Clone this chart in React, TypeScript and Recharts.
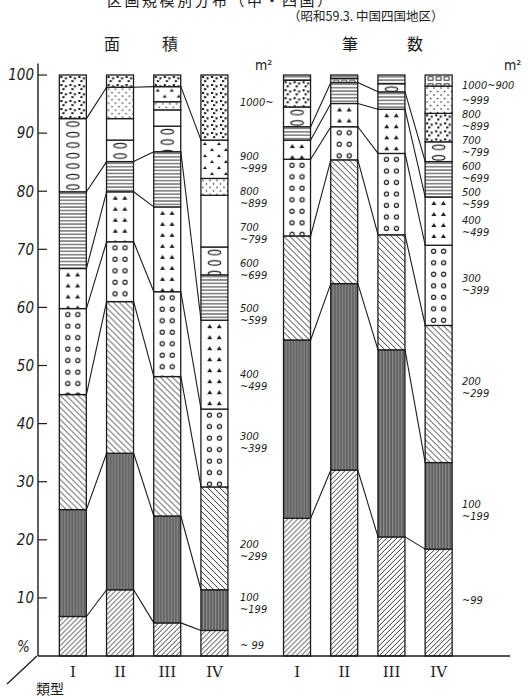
import React from 'react';
import { ComposedChart, Bar, XAxis, YAxis, ReferenceLine } from 'recharts';

// size classes (m²), bottom to top of each bar
const SIZE_CLASSES = ['~99', '100~199', '200~299', '300~399', '400~499', '500~599', '600~699', '700~799', '800~899', '900~999', '1000~'];
const TYPES = ['I', 'II', 'III', 'IV'];

// 面積 (%) by size class
const AREA_I = [6.8, 18.4, 19.8, 14.8, 6.9, 13.2, 12.6, 0, 0, 0, 7.5];
const AREA_II = [11.4, 23.5, 26.1, 10.3, 8.6, 5.2, 3.7, 3.7, 5.4, 0, 2.1];
const AREA_III = [5.7, 18.4, 24.0, 14.6, 14.6, 9.5, 4.4, 2.8, 1.4, 2.6, 2.0];
const AREA_IV = [4.4, 7.0, 17.7, 13.4, 15.3, 7.8, 4.8, 8.9, 2.9, 6.6, 11.2];

// 筆数 (%) by size class
const COUNT_I = [23.7, 30.7, 17.9, 13.2, 3.3, 2.3, 3.4, 4.6, 0, 0, 0.9];
const COUNT_II = [32.0, 32.1, 21.3, 5.7, 4.0, 3.6, 0, 0, 0, 0.7, 0.6];
const COUNT_III = [20.5, 32.2, 19.8, 14.0, 7.6, 3.0, 1.4, 0, 0, 0, 1.5];
const COUNT_IV = [18.4, 14.9, 23.6, 13.8, 8.3, 6.1, 3.4, 4.9, 4.7, 1.9, 0];

// which class boundaries are joined between neighbouring bars [left class, right class]
const AREA_LINKS = [
  [[0, 0], [1, 1], [2, 2], [3, 3], [4, 4], [5, 5], [9, 9]],
  [[0, 0], [1, 1], [2, 2], [3, 3], [4, 4], [5, 5], [9, 9]],
  [[0, 0], [1, 1], [2, 2], [3, 3], [5, 4], [9, 9]],
];
const COUNT_LINKS = [
  [[0, 0], [1, 1], [2, 2], [3, 3], [4, 4], [5, 5]],
  [[0, 0], [1, 1], [2, 2], [3, 3], [4, 4], [5, 5]],
  [[0, 0], [1, 1], [2, 2], [3, 3], [4, 4], [5, 5]],
];

const Y_TICKS = [10, 20, 30, 40, 50, 60, 70, 80, 90, 100];

const AREA_LEGEND = [['1000~'], ['900', '~999'], ['800', '~899'], ['700', '~799'], ['600', '~699'], ['500', '~599'], ['400', '~499'], ['300', '~399'], ['200', '~299'], ['100', '~199'], ['~ 99']];
const COUNT_LEGEND = [['1000~900'], ['~999'], ['800', '~899'], ['700', '~799'], ['600', '~699'], ['500', '~599'], ['400', '~499'], ['300', '~399'], ['200', '~299'], ['100', '~199'], ['~99']];

// layout
const W = 529;
const H = 699;
const MARGIN = { top: 63.4, right: 19, bottom: 13, left: 0 };
const Y_AXIS_W = 38;
const X_AXIS_H = 30;
const X_DOMAIN: [number, number] = [0.26, 10.26];
const AREA_POS = [1, 2, 3, 4];
const COUNT_POS = [5.75, 6.75, 7.75, 8.75];
const BAR_SIZE = 27;
const PX_PER_UNIT = (W - MARGIN.left - MARGIN.right - Y_AXIS_W) / (X_DOMAIN[1] - X_DOMAIN[0]);
const HALF_BAR = BAR_SIZE / 2 / PX_PER_UNIT;
const AREA_LEGEND_Y = [102, 162, 197, 233, 269, 314, 380, 442, 550, 603, 645];
const COUNT_LEGEND_Y = [85, 100, 120, 146, 172, 198, 226, 284, 387, 510, 600];

const AREA_PATTERNS = ['diag', 'dark', 'back', 'circ', 'tri', 'horiz', 'ell', 'blank', 'fine', 'trisc', 'dense'];
const COUNT_PATTERNS = ['diag', 'dark', 'back', 'circ', 'tri', 'horiz', 'ell', 'dense', 'fine', 'brick', 'horiz'];

const INK = '#1c1c1c';
const NUM_FONT = "'Liberation Sans Narrow', 'DejaVu Sans Condensed', sans-serif";
const CJK_FONT = "'Noto Sans CJK JP', 'Noto Sans', sans-serif";

const AREA = [AREA_I, AREA_II, AREA_III, AREA_IV];
const COUNT = [COUNT_I, COUNT_II, COUNT_III, COUNT_IV];

const toRow = (vals: number[], pos: number, type: string, group: string) => {
  const row: Record<string, any> = { pos, type, group };
  vals.forEach((v, k) => { row[`s${k}`] = v; });
  return row;
};

const ROWS = [
  ...AREA.map((v, i) => toRow(v, AREA_POS[i], TYPES[i], 'area')),
  ...COUNT.map((v, i) => toRow(v, COUNT_POS[i], TYPES[i], 'count')),
];

const cumulative = (vals: number[]) => {
  let s = 0;
  return vals.map(v => (s += v));
};

function buildLinks(groupVals: number[][], pos: number[], links: number[][][]) {
  const out: { x1: number; y1: number; x2: number; y2: number }[] = [];
  links.forEach((pairs, i) => {
    const a = cumulative(groupVals[i]);
    const b = cumulative(groupVals[i + 1]);
    pairs.forEach(([l, r]) => {
      out.push({ x1: pos[i] + HALF_BAR, y1: a[l], x2: pos[i + 1] - HALF_BAR, y2: b[r] });
    });
  });
  return out;
}

const LINKS = [...buildLinks(AREA, AREA_POS, AREA_LINKS), ...buildLinks(COUNT, COUNT_POS, COUNT_LINKS)];

function PatternRect(props: any) {
  const { x, y, width, height, index, k } = props;
  if (!height || height < 0.05) return <g />;
  const row = ROWS[index] ?? props.payload;
  const pat = row.group === 'area' ? AREA_PATTERNS[k] : COUNT_PATTERNS[k];
  return (
    <g transform={`translate(${x},${y})`}>
      <rect width={width} height={height} fill={`url(#p-${pat})`} stroke={INK} strokeWidth={1.3} />
    </g>
  );
}

function Patterns() {
  return (
    <defs>
      <pattern id="p-diag" patternUnits="userSpaceOnUse" width={5} height={5}>
        <rect width={5} height={5} fill="#fff" />
        <path d="M-1,1 L1,-1 M0,5 L5,0 M4,6 L6,4" stroke={INK} strokeWidth={0.9} />
      </pattern>
      <pattern id="p-back" patternUnits="userSpaceOnUse" width={6} height={6}>
        <rect width={6} height={6} fill="#fff" />
        <path d="M-1,5 L1,7 M0,0 L6,6 M5,-1 L7,1" stroke={INK} strokeWidth={0.9} />
      </pattern>
      <pattern id="p-dark" patternUnits="userSpaceOnUse" width={3} height={8}>
        <rect width={3} height={8} fill="#7a7a7a" />
        <rect x={0.7} width={0.8} height={8} fill="#454545" />
        <rect x={2.2} width={0.4} height={8} fill="#a4a4a4" />
      </pattern>
      <pattern id="p-circ" patternUnits="userSpaceOnUse" width={27} height={11.5}>
        <rect width={27} height={11.5} fill="#fff" />
        <circle cx={8.5} cy={6} r={2.1} fill="#fff" stroke={INK} strokeWidth={1.2} />
        <circle cx={18.5} cy={6} r={2.1} fill="#fff" stroke={INK} strokeWidth={1.2} />
      </pattern>
      <pattern id="p-tri" patternUnits="userSpaceOnUse" width={27} height={11}>
        <rect width={27} height={11} fill="#fff" />
        <path d="M6.3,8 L8.8,4 L11.3,8 Z M15.8,8 L18.3,4 L20.8,8 Z" fill={INK} />
      </pattern>
      <pattern id="p-horiz" patternUnits="userSpaceOnUse" width={10} height={3.4}>
        <rect width={10} height={3.4} fill="#fff" />
        <line x1={0} x2={10} y1={1.7} y2={1.7} stroke={INK} strokeWidth={0.9} />
      </pattern>
      <pattern id="p-ell" patternUnits="userSpaceOnUse" width={27} height={10.5}>
        <rect width={27} height={10.5} fill="#fff" />
        <ellipse cx={13.5} cy={5.5} rx={6.3} ry={2.3} fill="none" stroke={INK} strokeWidth={1.2} />
      </pattern>
      <pattern id="p-blank" patternUnits="userSpaceOnUse" width={4} height={4}>
        <rect width={4} height={4} fill="#fff" />
      </pattern>
      <pattern id="p-fine" patternUnits="userSpaceOnUse" width={7} height={7}>
        <rect width={7} height={7} fill="#fff" />
        <circle cx={2} cy={2} r={0.8} fill={INK} />
        <circle cx={5.5} cy={5.5} r={0.8} fill={INK} />
      </pattern>
      <pattern id="p-trisc" patternUnits="userSpaceOnUse" width={14} height={12}>
        <rect width={14} height={12} fill="#fff" />
        <path d="M2,5 L4,2 L6,5 Z M9,11 L11,8 L13,11 Z" fill={INK} />
      </pattern>
      <pattern id="p-dense" patternUnits="userSpaceOnUse" width={9} height={8}>
        <rect width={9} height={8} fill="#fff" />
        <rect x={1} y={1} width={2.2} height={2} fill={INK} />
        <rect x={5.6} y={2.2} width={2} height={2.2} fill={INK} />
        <rect x={3} y={5.2} width={2.3} height={1.9} fill={INK} />
      </pattern>
      <pattern id="p-brick" patternUnits="userSpaceOnUse" width={27} height={7}>
        <rect width={27} height={7} fill="#fff" />
        <rect x={3} y={1.8} width={5} height={3.4} fill="none" stroke={INK} strokeWidth={0.9} />
        <rect x={11} y={1.8} width={5} height={3.4} fill="none" stroke={INK} strokeWidth={0.9} />
        <rect x={19} y={1.8} width={5} height={3.4} fill="none" stroke={INK} strokeWidth={0.9} />
      </pattern>
    </defs>
  );
}

function Legend({ lines, ys, x }: { lines: string[][]; ys: number[]; x: number }) {
  const gap = 12.5;
  return (
    <g>
      {lines.map((ls, i) => {
        const top = ys[i] - ((ls.length - 1) * gap) / 2;
        return ls.map((t, j) => (
          <text key={`${i}-${j}`} x={x} y={top + j * gap + 4} fontSize={11} fontStyle="italic" fontFamily={NUM_FONT} fill={INK}>
            {t}
          </text>
        ));
      })}
    </g>
  );
}

export default function App() {
  const typeOf = (v: number) => ROWS.find(r => r.pos === v)?.type ?? '';
  return (
    <div style={{ position: 'absolute', top: 0, left: 0, width: W, height: H, background: '#fff' }}>
      <ComposedChart width={W} height={H} data={ROWS} margin={MARGIN}>
        <Patterns />
        <XAxis
          type="number"
          dataKey="pos"
          domain={X_DOMAIN}
          allowDataOverflow
          ticks={ROWS.map(r => r.pos)}
          interval={0}
          tickFormatter={typeOf}
          tickLine={false}
          tickMargin={4}
          height={X_AXIS_H}
          axisLine={{ stroke: INK, strokeWidth: 1.6 }}
          tick={{ fill: INK, fontSize: 15, fontFamily: "'DejaVu Serif', 'Liberation Serif', serif" }}
        />
        <YAxis
          type="number"
          domain={[0, 102]}
          ticks={Y_TICKS}
          width={Y_AXIS_W}
          tickSize={-9}
          tickMargin={13}
          axisLine={{ stroke: INK, strokeWidth: 1.4 }}
          tickLine={{ stroke: INK, strokeWidth: 1.2 }}
          tick={{ fill: INK, fontSize: 15, fontStyle: 'italic', fontFamily: NUM_FONT }}
        />
        {SIZE_CLASSES.map((c, k) => (
          <Bar
            key={c}
            dataKey={`s${k}`}
            name={c}
            stackId="share"
            barSize={BAR_SIZE}
            isAnimationActive={false}
            shape={(p: any) => <PatternRect {...p} k={k} />}
          />
        ))}
        {LINKS.map((l, i) => (
          <ReferenceLine
            key={i}
            segment={[{ x: l.x1, y: l.y1 }, { x: l.x2, y: l.y2 }]}
            stroke={INK}
            strokeWidth={1.1}
            ifOverflow="visible"
          />
        ))}
      </ComposedChart>
      <svg width={W} height={H} style={{ position: 'absolute', top: 0, left: 0, pointerEvents: 'none' }}>
        <text x={107} y={6} fontSize={15} letterSpacing={2.5} fontFamily={CJK_FONT} fill={INK}>区画規模別分布（中・四国）</text>
        <text x={288} y={21} fontSize={12.5} fontFamily={CJK_FONT} fill={INK}>（昭和59.3. 中国四国地区）</text>
        <text x={104} y={50} fontSize={16} fontFamily={CJK_FONT} fill={INK}>面</text>
        <text x={162} y={50} fontSize={16} fontFamily={CJK_FONT} fill={INK}>積</text>
        <text x={342} y={50} fontSize={16} fontFamily={CJK_FONT} fill={INK}>筆</text>
        <text x={407} y={50} fontSize={16} fontFamily={CJK_FONT} fill={INK}>数</text>
        <text x={255} y={70} fontSize={14} fontFamily={NUM_FONT} fill={INK}>m²</text>
        <text x={504} y={70} fontSize={14} fontFamily={NUM_FONT} fill={INK}>m²</text>
        <Legend lines={AREA_LEGEND} ys={AREA_LEGEND_Y} x={240} />
        <Legend lines={COUNT_LEGEND} ys={COUNT_LEGEND_Y} x={462} />
        <text x={17} y={652} fontSize={15} fontStyle="italic" fontFamily={NUM_FONT} fill={INK}>%</text>
        <line x1={37} y1={656} x2={7} y2={684} stroke={INK} strokeWidth={1.3} />
        <text x={36} y={694} fontSize={14} fontFamily={CJK_FONT} fill={INK}>類型</text>
      </svg>
    </div>
  );
}
